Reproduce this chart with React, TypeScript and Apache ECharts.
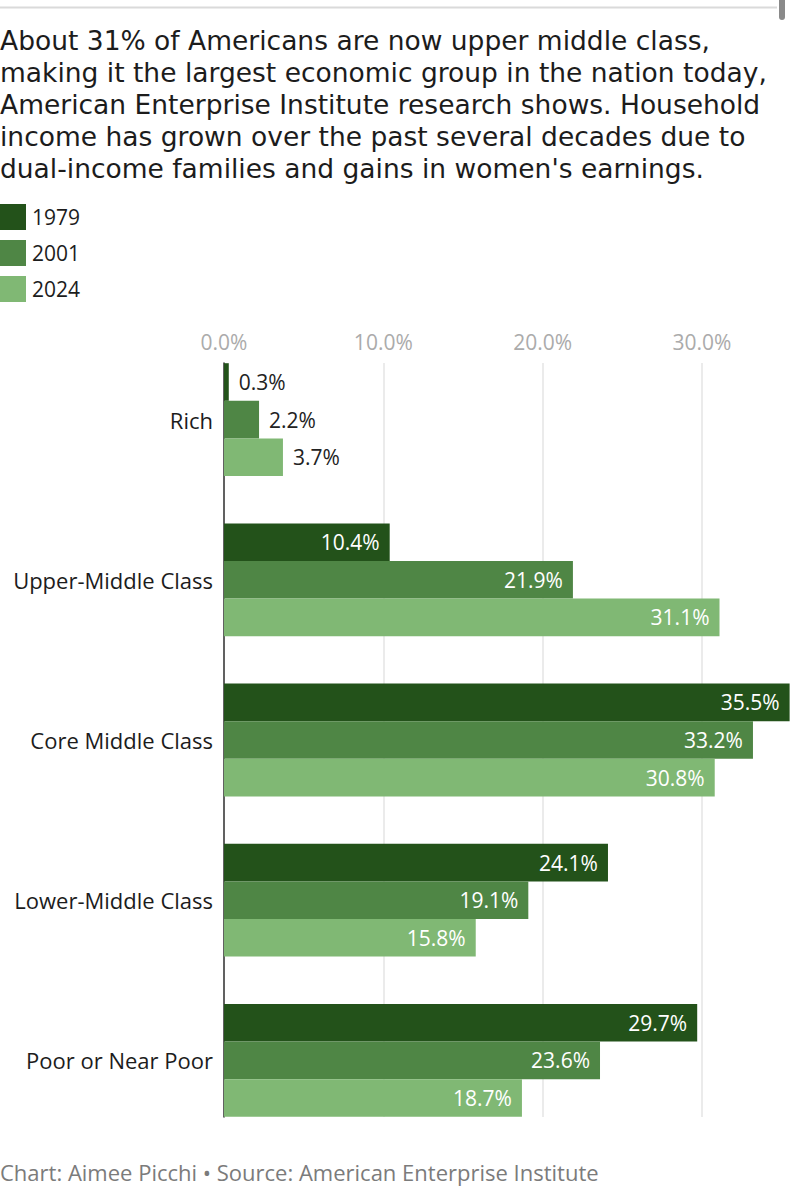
import React, { useEffect, useRef } from "react";
import * as echarts from "echarts";

const categories = ["Rich", "Upper-Middle Class", "Core Middle Class", "Lower-Middle Class", "Poor or Near Poor"];
const years = ["1979", "2001", "2024"];
const values1979 = [0.3, 10.4, 35.5, 24.1, 29.7];
const values2001 = [2.2, 21.9, 33.2, 19.1, 23.6];
const values2024 = [3.7, 31.1, 30.8, 15.8, 18.7];
const colors = ["#23521a", "#4f8645", "#80b874"];
const tickValues = [0, 10, 20, 30];

const titleText =
  "About 31% of Americans are now upper middle class,\nmaking it the largest economic group in the nation today,\nAmerican Enterprise Institute research shows. Household\nincome has grown over the past several decades due to\ndual-income families and gains in women's earnings.";
const footerText = "Chart: Aimee Picchi \u2022 Source: American Enterprise Institute";

const FONT = "'Open Sans', 'Noto Sans', sans-serif";
const TITLE_FONT = "'DejaVu Sans', 'Open Sans', sans-serif";
const AXIS_MAX = 35.65;
const SMALL = 22;

export default function App() {
  const ref = useRef<HTMLDivElement>(null);
  useEffect(() => {
    document.body.style.margin = "0";
    if (!ref.current) return;
    const chart = echarts.init(ref.current, undefined, { renderer: "svg" });
    const seriesValues = [values1979, values2001, values2024];
    const series = years.map((y, si) => ({
      name: y,
      type: "bar",
      xAxisIndex: 0,
      yAxisIndex: 0,
      barWidth: 37.6,
      barGap: "0%",
      itemStyle: { color: colors[si] },
      data: seriesValues[si].map((v) => ({
        value: v,
        label: {
          show: true,
          position: v < 6 ? "right" : "insideRight",
          distance: 10,
          color: v < 6 ? "#222222" : "#ffffff",
          fontSize: 21,
          fontFamily: FONT,
          formatter: (p: any) => p.value.toFixed(1) + "%",
        },
      })),
    }));
    const lastTick = tickValues[tickValues.length - 1];
    chart.setOption({
      animation: false,
      backgroundColor: "#ffffff",
      textStyle: { fontFamily: FONT },
      title: [
        {
          text: titleText,
          left: 0,
          top: 24,
          padding: 0,
          textStyle: { fontSize: 26.5, fontWeight: "normal", color: "#1c1c1c", lineHeight: 32, fontFamily: TITLE_FONT },
        },
        {
          text: footerText,
          left: 0,
          top: 1159,
          padding: 0,
          textStyle: { fontSize: SMALL, fontWeight: "normal", color: "#7b7b7b", lineHeight: 26, fontFamily: FONT },
        },
      ],
      legend: {
        orient: "vertical",
        left: 0,
        top: 204,
        padding: 0,
        itemWidth: 26,
        itemHeight: 26,
        itemGap: 10,
        icon: "rect",
        data: years,
        textStyle: { fontSize: 21, color: "#1c1c1c", fontFamily: FONT, padding: [0, 0, 0, 1] },
      },
      graphic: [
        { type: "line", shape: { x1: 0, y1: 7.5, x2: 777, y2: 7.5 }, style: { stroke: "#dadada", lineWidth: 2 } },
        { type: "rect", shape: { x: 779, y: -4, width: 6, height: 24, r: 3 }, style: { fill: "#8a8a8a" } },
      ],
      grid: [
        { left: 224, right: 0, top: 339.5, height: 801 },
        { left: 224, right: 0, top: 363, height: 754 },
      ],
      xAxis: [
        { type: "value", gridIndex: 0, min: 0, max: AXIS_MAX, show: false },
        {
          type: "value",
          gridIndex: 1,
          position: "top",
          min: 0,
          max: AXIS_MAX,
          interval: 10,
          axisLine: { show: false },
          axisTick: { show: false },
          axisLabel: {
            showMaxLabel: false,
            margin: 11,
            fontSize: 21,
            color: "#ababab",
            fontFamily: FONT,
            formatter: (v: number) => (v <= lastTick ? v.toFixed(1) + "%" : ""),
          },
          splitLine: {
            show: true,
            lineStyle: { color: ["#e4e4e4", "#e4e4e4", "#e4e4e4", "#e4e4e4", "rgba(0,0,0,0)"], width: 1.5 },
          },
        },
      ],
      yAxis: [
        {
          type: "category",
          gridIndex: 0,
          data: categories,
          inverse: true,
          axisLine: { show: false },
          axisTick: { show: false },
          axisLabel: { margin: 11, fontSize: SMALL, color: "#1c1c1c", fontFamily: FONT },
        },
        {
          type: "value",
          gridIndex: 1,
          min: 0,
          max: 1,
          axisLine: { show: true, onZero: false, lineStyle: { color: "#333333", width: 1.5 } },
          axisTick: { show: false },
          axisLabel: { show: false },
          splitLine: { show: false },
        },
      ],
      series,
    });
    return () => chart.dispose();
  }, []);
  return <div ref={ref} style={{ width: 792, height: 1200 }} />;
}
